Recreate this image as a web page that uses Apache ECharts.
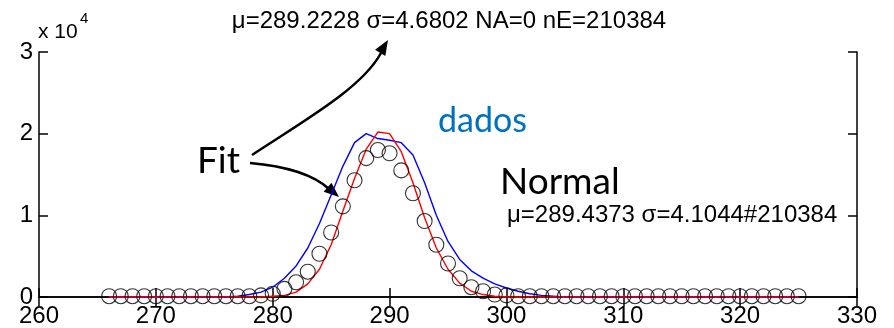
<!DOCTYPE html>
<html lang="pt">
<head>
    <meta charset="UTF-8">
    <title>Fit Normal</title>
    <script src="https://cdn.jsdelivr.net/npm/echarts@6/dist/echarts.min.js"></script>
    <style>
        html, body { margin: 0; padding: 0; background: #fff; }
        #main { width: 894px; height: 328px; }
    </style>
</head>
<body>
<div id="main"></div>
<script type="text/javascript">
    // bins (x) and counts in units of 10^4
    var bins = [266, 267, 268, 269, 270, 271, 272, 273, 274, 275,
                276, 277, 278, 279, 280, 281, 282, 283, 284, 285,
                286, 287, 288, 289, 290, 291, 292, 293, 294, 295,
                296, 297, 298, 299, 300, 301, 302, 303, 304, 305,
                306, 307, 308, 309, 310, 311, 312, 313, 314, 315,
                316, 317, 318, 319, 320, 321, 322, 323, 324, 325];

    var dados = [0.01, 0.01, 0.01, 0.01, 0.01, 0.01, 0.01, 0.01, 0.01, 0.01,
                 0.01, 0.01, 0.01, 0.02, 0.04, 0.10, 0.18, 0.31, 0.53, 0.79,
                 1.11, 1.43, 1.70, 1.80, 1.76, 1.55, 1.27, 0.93, 0.64, 0.41,
                 0.23, 0.12, 0.07, 0.03, 0.02, 0.01, 0.01, 0.01, 0.01, 0.01,
                 0.01, 0.01, 0.01, 0.01, 0.01, 0.01, 0.01, 0.01, 0.01, 0.01,
                 0.01, 0.01, 0.01, 0.01, 0.01, 0.01, 0.01, 0.01, 0.01, 0.01];

    // fit (blue) : mu=289.2228 sigma=4.6802
    var fitBlue = [0, 0, 0, 0, 0, 0, 0, 0, 0, 0,
                   0, 0.01, 0.03, 0.06, 0.12, 0.23, 0.38, 0.60, 0.90, 1.25,
                   1.60, 1.89, 2.00, 1.94, 1.92, 1.89, 1.74, 1.40, 1.00, 0.68,
                   0.46, 0.32, 0.23, 0.16, 0.11, 0.07, 0.04, 0.02, 0.01, 0,
                   0, 0, 0, 0, 0, 0, 0, 0, 0, 0,
                   0, 0, 0, 0, 0, 0, 0, 0, 0, 0];

    // normal (red) : mu=289.4373 sigma=4.1044
    var normalRed = [0, 0, 0, 0, 0, 0, 0, 0, 0, 0,
                     0, 0, 0, 0, 0.01, 0.02, 0.06, 0.16, 0.34, 0.64,
                     1.05, 1.45, 1.81, 2.02, 2.00, 1.78, 1.40, 0.97, 0.60, 0.34,
                     0.17, 0.07, 0.03, 0.01, 0, 0, 0, 0, 0, 0,
                     0, 0, 0, 0, 0, 0, 0, 0, 0, 0,
                     0, 0, 0, 0, 0, 0, 0, 0, 0, 0];

    var xTicks = [260, 330, 10];
    var yTicks = [0, 3, 1];

    function pairs(ys) {
        var out = [];
        for (var i = 0; i < bins.length; i++) {
            out.push([bins[i], ys[i]]);
        }
        return out;
    }

    // arrow head as a small filled triangle
    function arrowHead(tipX, tipY, dx, dy) {
        var len = Math.sqrt(dx * dx + dy * dy);
        var ux = dx / len, uy = dy / len;
        var L = 15, W = 6;
        var bx = tipX - ux * L, by = tipY - uy * L;
        return {
            type: 'polygon',
            shape: { points: [[tipX, tipY], [bx - uy * W, by + ux * W], [bx + uy * W, by - ux * W]] },
            style: { fill: '#000' }
        };
    }

    var font = '"Liberation Sans", Arial, sans-serif';
    var axisStyle = { color: '#000', width: 1.5 };

    var myChart = echarts.init(document.getElementById('main'));
    myChart.setOption({
        animation: false,
        grid: { left: 39, right: 37, top: 52, bottom: 31 },
        xAxis: [
            {
                type: 'value', min: xTicks[0], max: xTicks[1], interval: xTicks[2],
                position: 'bottom',
                axisLine: { lineStyle: axisStyle },
                axisTick: { inside: true, length: 9, lineStyle: axisStyle },
                axisLabel: { color: '#000', fontSize: 24, fontFamily: font, margin: 7 },
                splitLine: { show: false }
            },
            {
                type: 'value', min: xTicks[0], max: xTicks[1], interval: xTicks[2],
                position: 'top',
                axisLine: { lineStyle: axisStyle },
                axisTick: { inside: true, length: 9, lineStyle: axisStyle },
                axisLabel: { show: false },
                splitLine: { show: false }
            }
        ],
        yAxis: [
            {
                type: 'value', min: yTicks[0], max: yTicks[1], interval: yTicks[2],
                position: 'left',
                axisLine: { show: true, lineStyle: axisStyle },
                axisTick: { show: true, inside: true, length: 9, lineStyle: axisStyle },
                axisLabel: { color: '#000', fontSize: 24, fontFamily: font, margin: 6 },
                splitLine: { show: false }
            },
            {
                type: 'value', min: yTicks[0], max: yTicks[1], interval: yTicks[2],
                position: 'right',
                axisLine: { show: true, lineStyle: axisStyle },
                axisTick: { show: true, inside: true, length: 9, lineStyle: axisStyle },
                axisLabel: { show: false },
                splitLine: { show: false }
            }
        ],
        series: [
            {
                name: 'Fit', type: 'line', clip: false,
                showSymbol: false, symbol: 'none',
                lineStyle: { color: '#0000ff', width: 1.4 },
                data: pairs(fitBlue), z: 2
            },
            {
                name: 'Normal', type: 'line', clip: false,
                showSymbol: false, symbol: 'none',
                lineStyle: { color: '#ff0000', width: 1.4 },
                data: pairs(normalRed), z: 3
            },
            {
                name: 'dados', type: 'scatter', clip: false,
                symbol: 'circle', symbolSize: 15,
                itemStyle: { color: 'rgba(0,0,0,0)', borderColor: '#000', borderWidth: 1.1 },
                data: pairs(dados), z: 4
            }
        ],
        graphic: [
            {
                type: 'text', x: 449, y: 21,
                style: { text: 'μ=289.2228 σ=4.6802 NA=0 nE=210384', font: '24px ' + font, fill: '#000',
                         textAlign: 'center', textVerticalAlign: 'middle' }
            },
            {
                type: 'text', x: 38, y: 32,
                style: { text: 'x 10', font: '21px ' + font, fill: '#000',
                         textAlign: 'left', textVerticalAlign: 'middle' }
            },
            {
                type: 'text', x: 80, y: 19,
                style: { text: '4', font: '15px ' + font, fill: '#000',
                         textAlign: 'left', textVerticalAlign: 'middle' }
            },
            {
                type: 'text', x: 438, y: 121,
                style: { text: 'dados', font: '34px Lato, "Open Sans", sans-serif', fill: '#0070c0',
                         textAlign: 'left', textVerticalAlign: 'middle' }
            },
            {
                type: 'text', x: 197, y: 161,
                style: { text: 'Fit', font: '37px Lato, "Open Sans", sans-serif', fill: '#000',
                         textAlign: 'left', textVerticalAlign: 'middle' }
            },
            {
                type: 'text', x: 500, y: 182,
                style: { text: 'Normal', font: '37px Lato, "Open Sans", sans-serif', fill: '#000',
                         textAlign: 'left', textVerticalAlign: 'middle' }
            },
            {
                type: 'text', x: 507, y: 215,
                style: { text: 'μ=289.4373 σ=4.1044#210384', font: '24px ' + font, fill: '#000',
                         textAlign: 'left', textVerticalAlign: 'middle' }
            },
            // arrow to the top annotation
            {
                type: 'bezierCurve',
                shape: { x1: 252, y1: 155, cpx1: 305, cpy1: 120, cpx2: 362, cpy2: 88, x2: 381, y2: 53 },
                style: { stroke: '#000', lineWidth: 2.5, fill: null }
            },
            arrowHead(388, 40, 11, -18),
            // arrow to the data
            {
                type: 'bezierCurve',
                shape: { x1: 250, y1: 163, cpx1: 285, cpy1: 166, cpx2: 314, cpy2: 175, x2: 329, y2: 189 },
                style: { stroke: '#000', lineWidth: 2.5, fill: null }
            },
            arrowHead(339, 197, 1, 0.85)
        ]
    });
</script>
</body>
</html>
